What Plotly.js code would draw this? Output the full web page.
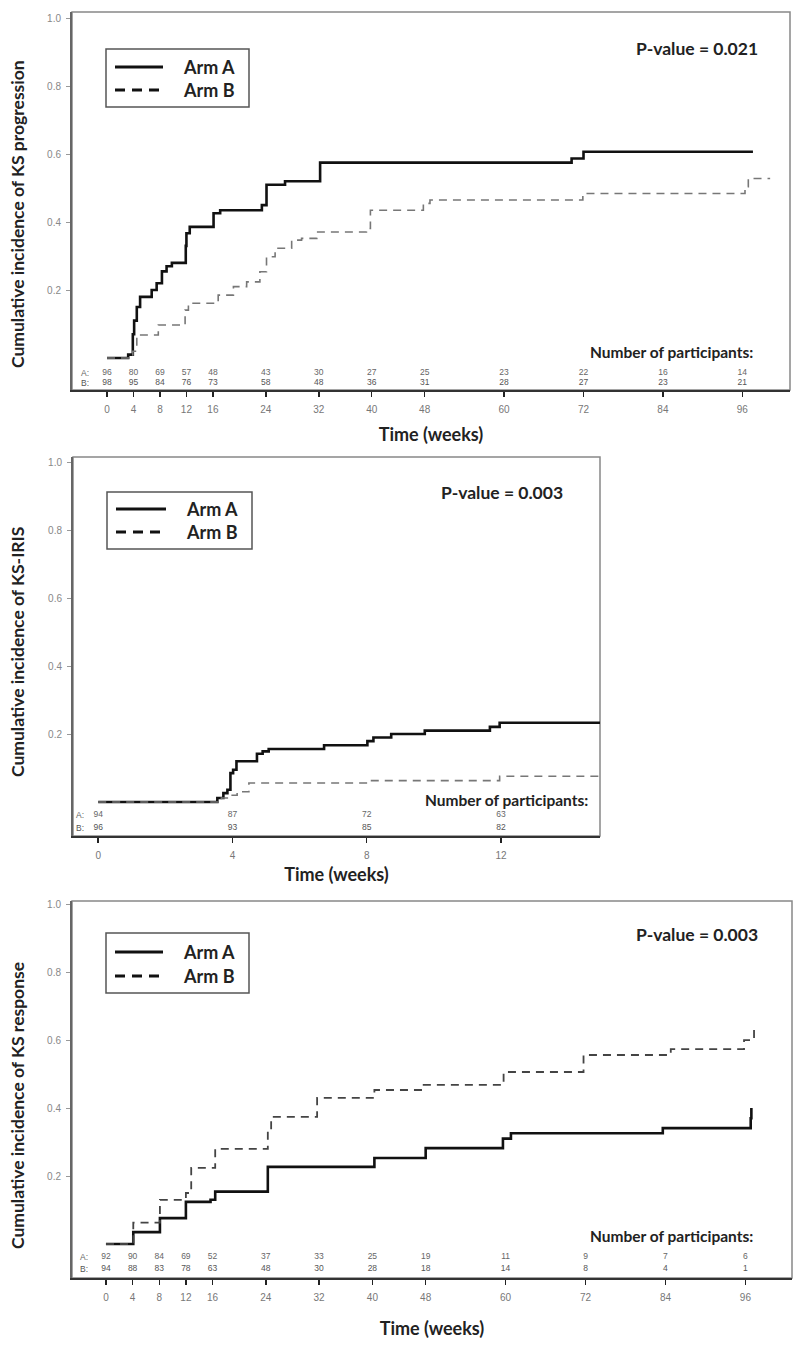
<!DOCTYPE html>
<html>
<head>
<meta charset="utf-8">
<script src="https://cdn.plot.ly/plotly-3.0.1.min.js"></script>
<style>html,body{margin:0;padding:0;background:#fff;}#chart{width:800px;height:1347px;}</style>
</head>
<body>
<div id="chart"></div>
<script>
// ---------------- DATA ----------------
// Panel 1: KS progression
const p1Ticks = [0, 4, 8, 12, 16, 24, 32, 40, 48, 60, 72, 84, 96];
const p1A_t = [0, 3.2, 3.9, 4.1, 4.5, 5.0, 6.75, 7.5, 8.3, 9.0, 9.8, 11.9, 12.0, 12.5, 16.1, 17.1, 23.4, 24.1, 26.9, 32.2, 70.2, 72.0, 97.6];
const p1A_v = [0, 0.01, 0.07, 0.11, 0.15, 0.18, 0.20, 0.22, 0.255, 0.27, 0.28, 0.33, 0.367, 0.386, 0.426, 0.435, 0.45, 0.51, 0.52, 0.575, 0.587, 0.607, 0.607];
const p1B_t = [0, 3.9, 4.5, 7.75, 11.8, 12.3, 16.8, 19.1, 21.1, 23.1, 24.1, 25.4, 27.9, 29.4, 31.7, 39.2, 39.8, 47.8, 48.8, 71.9, 96.4, 96.9, 100.2];
const p1B_v = [0, 0.02, 0.068, 0.097, 0.141, 0.161, 0.185, 0.21, 0.224, 0.254, 0.298, 0.323, 0.347, 0.352, 0.371, 0.381, 0.435, 0.455, 0.465, 0.484, 0.504, 0.528, 0.528];
const p1RiskA = [96, 80, 69, 57, 48, 43, 30, 27, 25, 23, 22, 16, 14];
const p1RiskB = [98, 95, 84, 76, 73, 58, 48, 36, 31, 28, 27, 23, 21];
const p1P = "P-value = 0.021";
const p1YTitle = "Cumulative incidence of KS progression";

// Panel 2: KS-IRIS
const p2Ticks = [0, 4, 8, 12];
const p2A_t = [0, 3.55, 3.73, 3.85, 3.94, 4.02, 4.12, 4.73, 4.9, 5.08, 6.73, 8.02, 8.2, 8.73, 9.73, 11.67, 11.96, 14.95];
const p2A_v = [0, 0.012, 0.026, 0.036, 0.085, 0.095, 0.12, 0.142, 0.149, 0.156, 0.167, 0.179, 0.19, 0.2, 0.21, 0.221, 0.233, 0.233];
const p2B_t = [0, 3.67, 3.9, 4.14, 4.49, 8.02, 11.96, 14.95];
const p2B_v = [0, 0.012, 0.02, 0.03, 0.056, 0.063, 0.076, 0.076];
const p2RiskA = [94, 87, 72, 63];
const p2RiskB = [96, 93, 85, 82];
const p2P = "P-value = 0.003";
const p2YTitle = "Cumulative incidence of KS-IRIS";

// Panel 3: KS response
const p3Ticks = [0, 4, 8, 12, 16, 24, 32, 40, 48, 60, 72, 84, 96];
const p3A_t = [0, 4.1, 8.1, 12.0, 15.7, 16.4, 24.3, 40.3, 48.0, 59.6, 60.8, 83.6, 96.8, 96.9];
const p3A_v = [0, 0.035, 0.076, 0.124, 0.13, 0.154, 0.227, 0.253, 0.282, 0.31, 0.326, 0.341, 0.37, 0.40];
const p3B_t = [0, 4.1, 8.1, 12.0, 12.8, 16.4, 24.3, 24.8, 31.7, 40.3, 47.7, 59.7, 71.7, 84.8, 95.8, 97.3];
const p3B_v = [0, 0.063, 0.13, 0.15, 0.224, 0.28, 0.33, 0.374, 0.43, 0.453, 0.468, 0.506, 0.556, 0.573, 0.60, 0.63];
const p3RiskA = [92, 90, 84, 69, 52, 37, 33, 25, 19, 11, 9, 7, 6];
const p3RiskB = [94, 88, 83, 78, 63, 48, 30, 28, 18, 14, 8, 4, 1];
const p3P = "P-value = 0.003";
const p3YTitle = "Cumulative incidence of KS response";

const armNames = ["Arm A", "Arm B"];
const riskTitle = "Number of participants:";
const xTitle = "Time (weeks)";
const yTickVals = [0.2, 0.4, 0.6, 0.8, 1.0];
const yTickText = ["0.2", "0.4", "0.6", "0.8", "1.0"];

// ---------------- LAYOUT HELPERS ----------------
const W = 800, H = 1347;
const px = x => x / W;
const py = y => 1 - y / H;
const BOLD = "Lato, 'Open Sans', sans-serif";
const TICKF = "'Liberation Sans', Arial, sans-serif";

const panels = [
  {id: "", box: [72, 790, 12, 390], xr: [-5.29, 103.2], yr: [-0.094, 1.018],
   A: [p1A_t, p1A_v], B: [p1B_t, p1B_v], ticks: p1Ticks, rA: p1RiskA, rB: p1RiskB,
   rowA: -0.044, rowB: -0.074, labX: -3.4, P: p1P, pPos: [697, 48], yT: p1YTitle, yTc: 214,
   leg: [106, 249, 49, 107, 67, 90, 115, 163, 181], nop: [755, 352], xStand: 14, bColor: "#777", bW: 1.6},
  {id: "2", box: [73, 600, 457, 836], xr: [-0.75, 14.95], yr: [-0.1, 1.015],
   A: [p2A_t, p2A_v], B: [p2B_t, p2B_v], ticks: p2Ticks, rA: p2RiskA, rB: p2RiskB,
   rowA: -0.038, rowB: -0.076, labX: -0.55, P: p2P, pPos: [502, 493], yT: p2YTitle, yTc: 652,
   leg: [107, 252, 492, 549, 509, 532, 116, 166, 184], nop: [590, 800], xStand: 8, bColor: "#777", bW: 1.6},
  {id: "3", box: [72, 792, 901, 1278], xr: [-5.1, 103], yr: [-0.1, 1.009],
   A: [p3A_t, p3A_v], B: [p3B_t, p3B_v], ticks: p3Ticks, rA: p3RiskA, rB: p3RiskB,
   rowA: -0.038, rowB: -0.074, labX: -3.3, P: p3P, pPos: [697, 935], yT: p3YTitle, yTc: 1106,
   leg: [106, 249, 933, 993, 952, 976, 115, 163, 181], nop: [755, 1236], xStand: 20, bColor: "#444", bW: 1.8}
];

const data = [];
const layout = {
  width: W, height: H, margin: {l: 0, r: 0, t: 0, b: 0},
  paper_bgcolor: "#fff", plot_bgcolor: "#fff", showlegend: false,
  shapes: [], annotations: []
};

panels.forEach(p => {
  const xa = "x" + p.id, ya = "y" + p.id;
  const xk = "xaxis" + p.id, yk = "yaxis" + p.id;
  layout[xk] = {
    domain: [px(p.box[0]), px(p.box[1])], range: p.xr, anchor: ya,
    tickmode: "array", tickvals: p.ticks, ticktext: p.ticks.map(String),
    ticks: "outside", ticklen: 5, tickwidth: 1.5, tickcolor: "#222",
    ticklabelstandoff: 4,
    showline: true, linecolor: "#333", linewidth: 2, mirror: false,
    showgrid: false, zeroline: false,
    tickfont: {family: TICKF, size: 10, color: "#777"},
    title: {text: xTitle, font: {family: BOLD, size: 18, color: "#222", weight: "bold"}, standoff: p.xStand},
    automargin: false, fixedrange: true
  };
  layout[yk] = {
    domain: [py(p.box[3]), py(p.box[2])], range: p.yr, anchor: xa,
    tickmode: "array", tickvals: yTickVals, ticktext: yTickText,
    ticks: "outside", ticklen: 4, tickwidth: 1, tickcolor: "#999",
    ticklabelstandoff: 3,
    showline: true, linecolor: "#666", linewidth: 2, mirror: false,
    showgrid: false, zeroline: false,
    tickfont: {family: TICKF, size: 10, color: "#888"},
    automargin: false, fixedrange: true
  };
  // y-axis title (placed beside the axis)
  layout.annotations.push({xref: "paper", yref: "paper", x: px(17), y: py(p.yTc), xanchor: "center", yanchor: "middle",
    textangle: -90, text: "<b>" + p.yT + "</b>", showarrow: false, font: {family: BOLD, size: 17.5, color: "#222"}});
  // frame
  layout.shapes.push({type: "rect", xref: xa + " domain", yref: ya + " domain", x0: 0, x1: 1, y0: 0, y1: 1,
    line: {color: "#888", width: 1.5}, layer: "below"});

  data.push({x: p.A[0], y: p.A[1], xaxis: xa, yaxis: ya, type: "scatter", mode: "lines",
    line: {shape: "hv", color: "#111", width: 2.6}, name: armNames[0], hoverinfo: "skip"});
  data.push({x: p.B[0], y: p.B[1], xaxis: xa, yaxis: ya, type: "scatter", mode: "lines",
    line: {shape: "hv", color: p.bColor, width: p.bW, dash: "8px,6px"}, name: armNames[1], hoverinfo: "skip"});

  // at-risk numbers
  data.push({x: p.ticks, y: p.ticks.map(() => p.rowA), text: p.rA.map(String), xaxis: xa, yaxis: ya,
    type: "scatter", mode: "text", textfont: {family: TICKF, size: 8.5, color: "#666"}, hoverinfo: "skip"});
  data.push({x: p.ticks, y: p.ticks.map(() => p.rowB), text: p.rB.map(String), xaxis: xa, yaxis: ya,
    type: "scatter", mode: "text", textfont: {family: TICKF, size: 8.5, color: "#555"}, hoverinfo: "skip"});
  layout.annotations.push({xref: xa, yref: ya, x: p.labX, y: p.rowA, text: "A:", showarrow: false,
    font: {family: TICKF, size: 8.5, color: "#666"}});
  layout.annotations.push({xref: xa, yref: ya, x: p.labX, y: p.rowB, text: "B:", showarrow: false,
    font: {family: TICKF, size: 8.5, color: "#555"}});

  // number of participants
  layout.annotations.push({xref: "paper", yref: "paper", x: px(p.nop[0]), y: py(p.nop[1]), xanchor: "right", yanchor: "middle",
    text: "<b>" + riskTitle + "</b>", showarrow: false, font: {family: BOLD, size: 15.5, color: "#222"}});
  // p-value
  layout.annotations.push({xref: "paper", yref: "paper", x: px(p.pPos[0]), y: py(p.pPos[1]), xanchor: "center", yanchor: "middle",
    text: "<b>" + p.P + "</b>", showarrow: false, font: {family: BOLD, size: 17.5, color: "#222"}});

  // legend box
  const L = p.leg;
  layout.shapes.push({type: "rect", xref: "paper", yref: "paper", x0: px(L[0]), x1: px(L[1]), y0: py(L[3]), y1: py(L[2]),
    line: {color: "#555", width: 1.5}, fillcolor: "#fff"});
  layout.shapes.push({type: "line", xref: "paper", yref: "paper", x0: px(L[6]), x1: px(L[7]), y0: py(L[4]), y1: py(L[4]),
    line: {color: "#111", width: 3}});
  layout.shapes.push({type: "line", xref: "paper", yref: "paper", x0: px(L[6]), x1: px(L[7]), y0: py(L[5]), y1: py(L[5]),
    line: {color: "#111", width: 3, dash: "10px,7px"}});
  layout.annotations.push({xref: "paper", yref: "paper", x: px(L[8]), y: py(L[4]), xanchor: "left", yanchor: "middle",
    text: "<b>" + armNames[0] + "</b>", showarrow: false, font: {family: BOLD, size: 18, color: "#222"}});
  layout.annotations.push({xref: "paper", yref: "paper", x: px(L[8]), y: py(L[5]), xanchor: "left", yanchor: "middle",
    text: "<b>" + armNames[1] + "</b>", showarrow: false, font: {family: BOLD, size: 18, color: "#222"}});
});

Plotly.newPlot("chart", data, layout, {staticPlot: true, displayModeBar: false});
</script>
</body>
</html>
